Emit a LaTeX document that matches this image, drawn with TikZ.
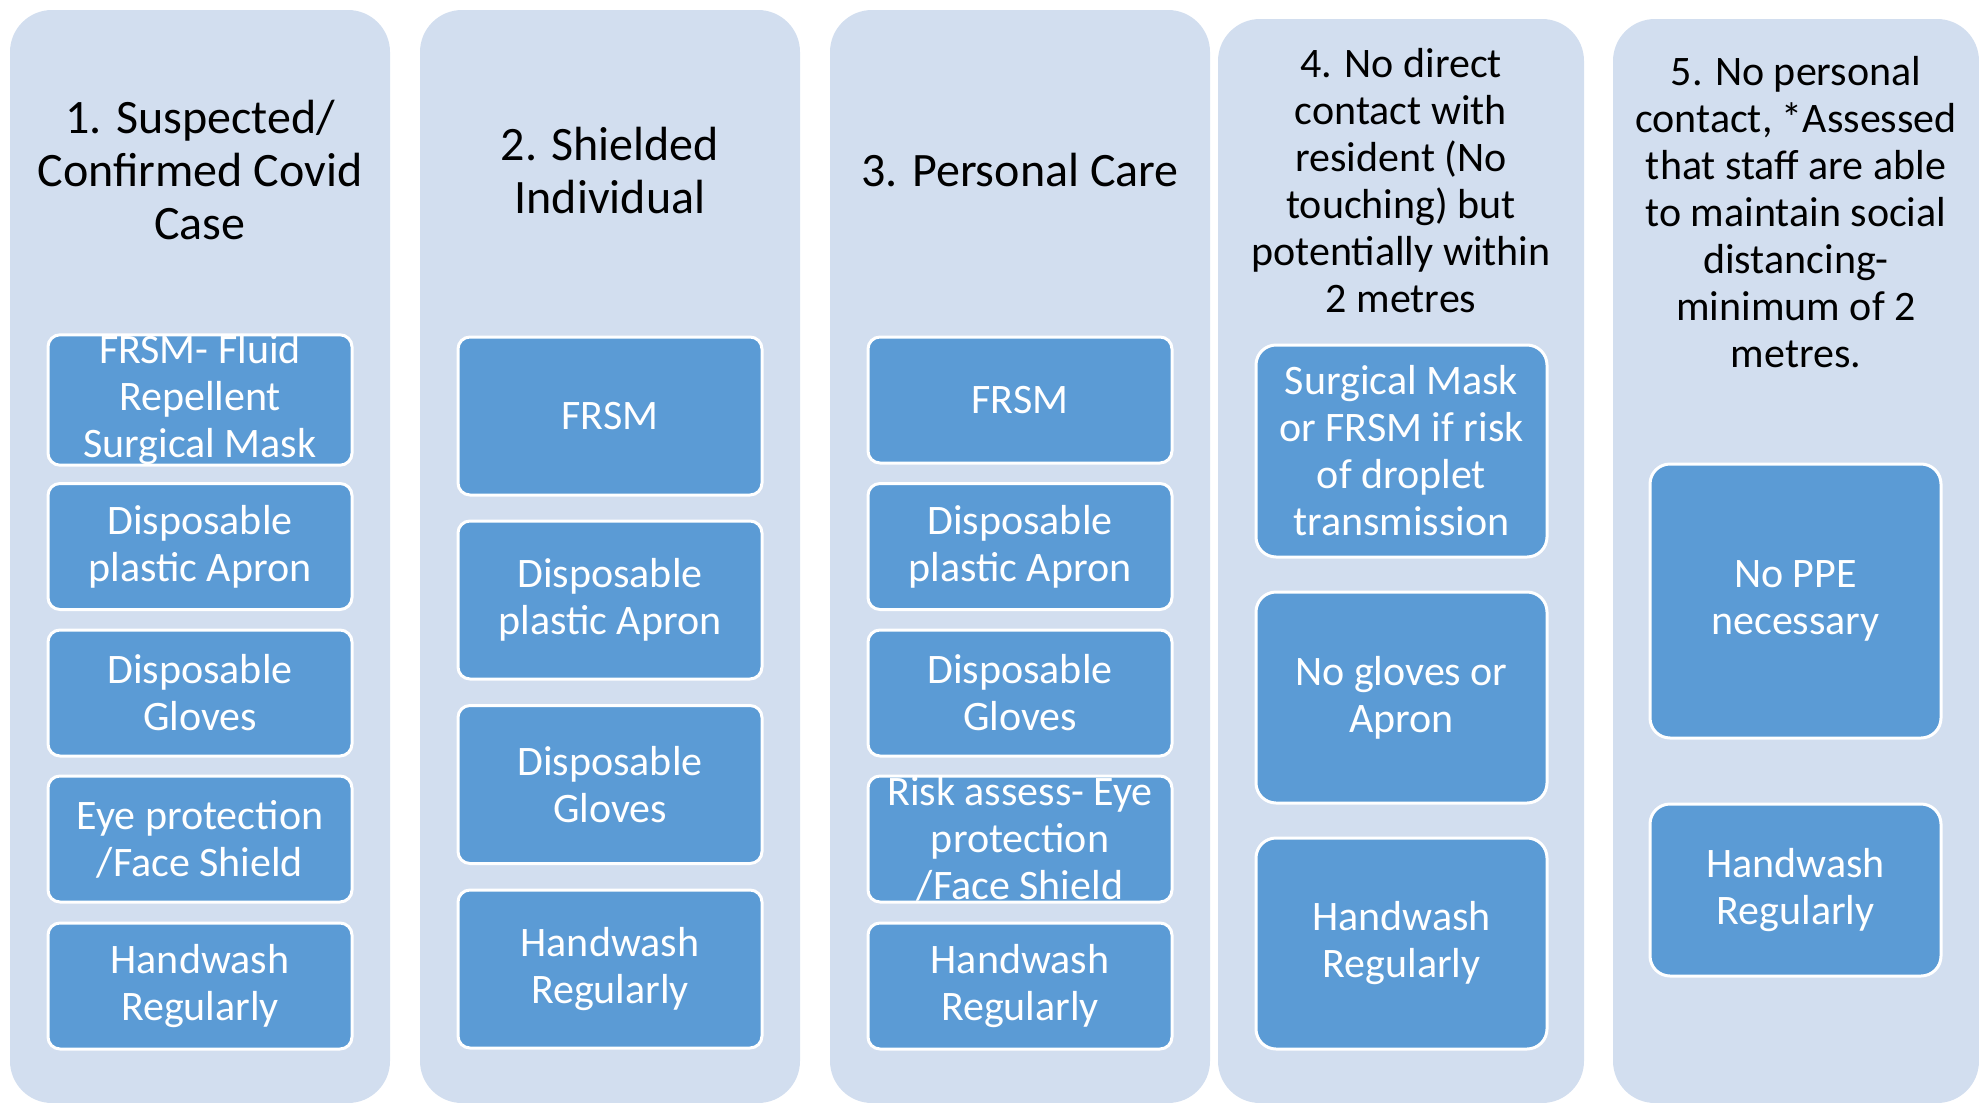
\documentclass[tikz,border=0pt]{standalone}
\usepackage{fontspec}
\setmainfont{Carlito}
\definecolor{lane_bg}{RGB}{210,222,239}
\definecolor{ppe_blue}{RGB}{91,155,213}
\tikzstyle{lane}=[rectangle,rounded corners=42pt,fill=lane_bg,draw=none,
  inner sep=0pt]
\tikzstyle{ppe}=[rectangle,rounded corners=12pt,fill=ppe_blue,draw=white,
  line width=3pt,inner sep=0pt,align=center,text=white,
  font=\fontsize{42}{47}\selectfont]
\tikzstyle{ppebig}=[style=ppe,rounded corners=20pt,minimum width=291pt]
\tikzstyle{head}=[align=center,text=black,font=\fontsize{48}{53}\selectfont]
\tikzstyle{headsm}=[align=center,text=black,font=\fontsize{42}{47}\selectfont]

\begin{document}
\begin{tikzpicture}[x=1pt,y=-1pt]
        \useasboundingbox (0,0) rectangle (1979,1103);
        % lanes
        \node[style=lane,minimum width=380pt,minimum height=1093pt] (lane1) at (200,556.5) {};
        \node[style=lane,minimum width=380pt,minimum height=1093pt] (lane2) at (610,556.5) {};
        \node[style=lane,minimum width=380pt,minimum height=1093pt] (lane3) at (1020,556.5) {};
        \node[style=lane,minimum width=366pt,minimum height=1084pt] (lane4) at (1401,561) {};
        \node[style=lane,minimum width=366pt,minimum height=1084pt] (lane5) at (1796,561) {};
        % headings
        \node[style=head] (h1) at (200,170.5) {1. Suspected/\\Confirmed Covid\\Case};
        \node[style=head] (h2) at (610,170.5) {2. Shielded\\Individual};
        \node[style=head] (h3) at (1020,170.5) {3. Personal Care};
        \node[style=headsm] (h4) at (1401,180.5) {4. No direct\\contact with\\resident (No\\touching) but\\potentially within\\2 metres};
        \node[style=headsm] (h5) at (1796,212.5) {5. No personal\\contact, *Assessed\\that staff are able\\to maintain social\\distancing-\\minimum of 2\\metres.};
        % column 1
        \node[style=ppe,minimum width=304pt,minimum height=126pt] (a1) at (200,400) {FRSM- Fluid\\Repellent\\Surgical Mask};
        \node[style=ppe,minimum width=304pt,minimum height=126pt] (a2) at (200,546.5) {Disposable\\plastic Apron};
        \node[style=ppe,minimum width=304pt,minimum height=126pt] (a3) at (200,693) {Disposable\\Gloves};
        \node[style=ppe,minimum width=304pt,minimum height=126pt] (a4) at (200,839) {Eye protection\\/Face Shield};
        \node[style=ppe,minimum width=304pt,minimum height=126pt] (a5) at (200,986) {Handwash\\Regularly};
        % column 2
        \node[style=ppe,minimum width=304pt,minimum height=158pt] (b1) at (610,416) {FRSM};
        \node[style=ppe,minimum width=304pt,minimum height=158pt] (b2) at (610,600) {Disposable\\plastic Apron};
        \node[style=ppe,minimum width=304pt,minimum height=158pt] (b3) at (610,784.5) {Disposable\\Gloves};
        \node[style=ppe,minimum width=304pt,minimum height=158pt] (b4) at (610,969) {Handwash\\Regularly};
        % column 3
        \node[style=ppe,minimum width=304pt,minimum height=126pt] (c1) at (1020,400) {FRSM};
        \node[style=ppe,minimum width=304pt,minimum height=126pt] (c2) at (1020,546.5) {Disposable\\plastic Apron};
        \node[style=ppe,minimum width=304pt,minimum height=126pt] (c3) at (1020,693) {Disposable\\Gloves};
        \node[style=ppe,minimum width=304pt,minimum height=126pt] (c4) at (1020,839) {Risk assess- Eye\\protection\\/Face Shield};
        \node[style=ppe,minimum width=304pt,minimum height=126pt] (c5) at (1020,986) {Handwash\\Regularly};
        % column 4
        \node[style=ppebig,minimum height=212pt] (d1) at (1401.5,451) {Surgical Mask\\or FRSM if risk\\of droplet\\transmission};
        \node[style=ppebig,minimum height=211pt] (d2) at (1401.5,697.5) {No gloves or\\Apron};
        \node[style=ppebig,minimum height=211pt] (d3) at (1401.5,943.5) {Handwash\\Regularly};
        % column 5
        \node[style=ppebig,minimum height=274pt] (e1) at (1795.5,601) {No PPE\\necessary};
        \node[style=ppebig,minimum height=172pt] (e2) at (1795.5,890) {Handwash\\Regularly};
    \end{tikzpicture}
\end{document}
